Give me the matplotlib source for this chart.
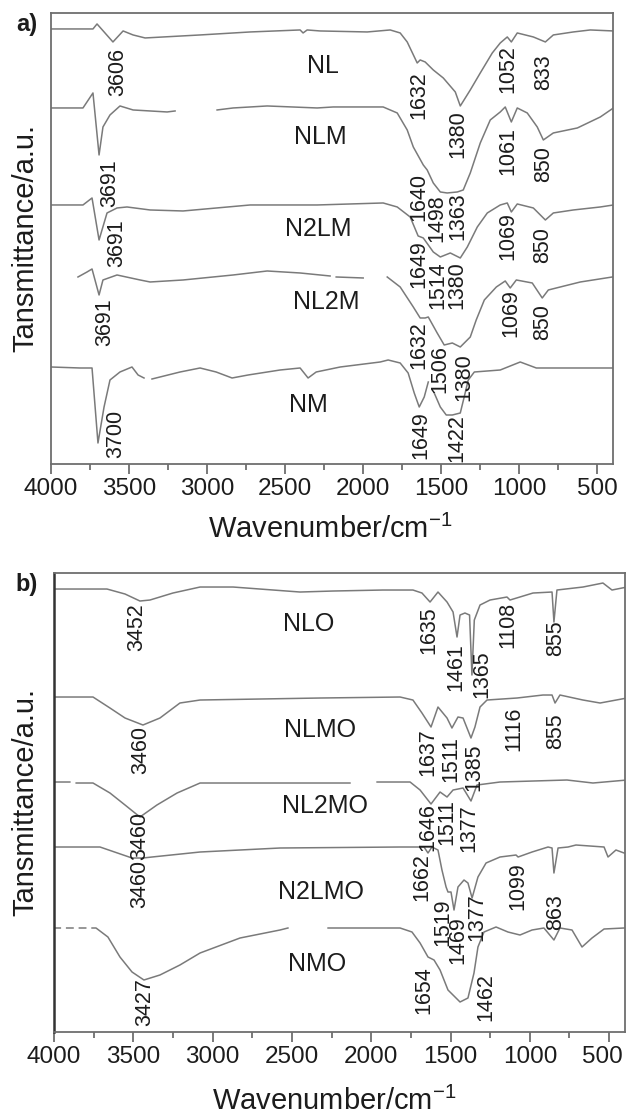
import matplotlib
matplotlib.use("Agg")
import matplotlib.pyplot as plt
import numpy as np
from matplotlib.ticker import MultipleLocator
from matplotlib.transforms import ScaledTranslation

plt.rcParams['font.family'] = ['Liberation Sans', 'DejaVu Sans']
plt.rcParams['mathtext.fontset'] = 'custom'
plt.rcParams['mathtext.rm'] = 'Liberation Sans'
plt.rcParams['mathtext.it'] = 'Liberation Sans:italic'
plt.rcParams['mathtext.bf'] = 'Liberation Sans:bold'

nan = np.nan

# ---------------- panel a) spectra (wavenumber, transmittance a.u.) ----------------
nl_wn = [4000, 3731, 3705, 3603, 3538, 3474, 3397, 3045, 2724, 2404, 2385, 2359, 2276, 1974, 1827,
         1763, 1718, 1654, 1635, 1603, 1551, 1487, 1410, 1378, 1314, 1250, 1173, 1122, 1077, 1051,
         1013, 910, 833, 782, 654, 545, 397]
nl_t = [435, 435, 440, 422, 433, 429, 426, 429, 432, 434, 431, 434, 433, 432, 434,
        431, 422, 401, 404, 402, 394, 386, 372, 358, 374, 391, 411, 421, 427, 422,
        431, 427, 422, 429, 432, 434, 433]

nlm_wn = [4000, 3795, 3731, 3692, 3667, 3622, 3558, 3474, 3256, 3205, nan, 2936, 2833, 2615, 2295,
          2192, 1872, 1782, 1718, 1679, 1615, 1590, 1551, 1506, 1462, 1397, 1359, 1314, 1250,
          1186, 1122, 1090, 1051, 1013, 949, 885, 846, 782, 628, 481, 397]
nlm_t = [356, 356, 371, 309, 337, 349, 358, 354, 352, 353, nan, 354, 356, 358, 356,
         357, 357, 351, 334, 317, 299, 294, 281, 272, 271, 272, 274, 291, 321,
         344, 352, 357, 342, 356, 351, 337, 324, 331, 336, 347, 356]

n2lm_wn = [4000, 3795, 3737, 3692, 3641, 3577, 3513, 3365, 3154, 2724, 2295, 1872, 1782, 1699,
           1648, 1615, 1551, 1506, 1442, 1378, 1333, 1269, 1205, 1122, 1077, 1051, 1013, 910,
           833, 782, 654, 481, 397]
n2lm_t = [259, 259, 266, 224, 251, 256, 257, 254, 253, 259, 259, 261, 257, 247,
          228, 226, 212, 207, 211, 206, 217, 237, 251, 259, 261, 252, 260, 256,
          244, 251, 254, 257, 259]

nl2m_wn = [3827, 3769, 3737, 3692, 3667, 3577, 3429, 3365, 3154, 2833, 2615, 2404, 2212, nan,
           2173, 2000, nan, 1846, 1763, 1679, 1635, 1603, 1583, 1526, 1481, 1429, 1378, 1314,
           1276, 1224, 1147, 1090, 1058, 1019, 917, 853, 814, 712, 609, 404]
nl2m_t = [187, 192, 195, 169, 184, 189, 184, 182, 184, 189, 193, 191, 188, nan,
          187, 186, nan, 187, 177, 157, 146, 146, 147, 131, 119, 121, 117, 127,
          144, 164, 177, 183, 176, 184, 181, 166, 174, 178, 182, 187]

nm_wn = [4000, 3814, 3737, 3699, 3660, 3622, 3558, 3481, 3442, 3404, nan, 3353, 3173, 3045, 2942,
         2840, 2737, 2532, 2404, 2353, 2301, 2147, 1891, 1840, 1763, 1712, 1673, 1641, 1609,
         1583, nan, 1545, 1506, 1468, 1429, 1378, 1353, 1327, 1288, 1122, 994, 891, 686, 404]
nm_t = [97, 96, 96, 21, 57, 84, 92, 97, 89, 86, nan, 85, 92, 96, 92,
        86, 89, 94, 96, 86, 92, 97, 102, 104, 101, 91, 71, 57, 67,
        82, nan, 71, 57, 49, 49, 51, 67, 84, 92, 94, 102, 96, 96, 96]

# ---------------- panel b) spectra ----------------
nlo_wn = [3994, 3666, 3552, 3458, 3395, 3250, 3079, 2871, 2449, 2241, 1926, 1737, 1680, 1629,
          1579, 1522, 1484, 1459, 1440, 1409, 1380, 1365, 1350, 1314, 1251, 1144, 1125, 980,
          860, 848, 829, 665, 539, 482, 387]
nlo_t = [443, 443, 438, 431, 432, 439, 445, 445, 440, 441, 442, 442, 439, 430,
         440, 430, 420, 395, 417, 419, 417, 357, 412, 427, 432, 435, 432, 439,
         440, 410, 442, 445, 449, 442, 445]

nlmo_wn = [3994, 3754, 3647, 3552, 3439, 3332, 3206, 3079, 2323, 1818, 1737, 1680, 1623, 1579,
           1522, 1491, 1453, 1421, 1371, 1346, 1314, 1270, 1081, 917, 860, 841, 810, 665, 557,
           387]
nlmo_t = [335, 335, 324, 314, 307, 314, 329, 332, 334, 335, 332, 319, 305, 325,
          314, 304, 315, 314, 294, 305, 325, 332, 334, 337, 337, 329, 337, 332, 329,
          334]

nl2mo_wn = [3994, 3900, nan, 3860, 3754, 3647, 3552, 3458, 3351, 3224, 3079, 2764, 2134, nan,
            1963, 1755, 1692, 1623, 1566, 1522, 1484, 1421, 1371, 1333, 1188, 766, 602, 387]
nl2mo_t = [250, 250, nan, 249, 249, 239, 227, 215, 227, 239, 249, 249, 249, nan,
           250, 250, 242, 228, 240, 235, 242, 244, 231, 247, 250, 252, 249, 252]

n2lmo_wn = [4000, 3710, 3508, 3439, 3382, 3079, 2575, 1818, 1667, 1642, 1617, 1579, 1554, 1528,
            1516, 1497, 1478, 1453, 1415, 1390, 1364, 1327, 1276, 1188, 1087, 1074, 986, 885,
            860, 848, 822, 759, 709, 532, 507, 457, 406]
n2lmo_t = [185, 185, 174, 174, 175, 180, 184, 185, 185, 179, 185, 182, 162, 145,
           140, 140, 122, 145, 152, 149, 134, 155, 169, 175, 177, 175, 180, 185,
           184, 159, 184, 185, 187, 185, 175, 182, 179]

nmo_wn = [4000, 3960, nan, 3920, 3880, nan, 3840, 3800, nan, 3760, 3735, 3660, 3584, 3508, 3433,
          3332, 3206, 3079, 2827, 2575, 2525, nan, 2272, 1818, 1743, 1692, 1642, 1604, 1566,
          1516, 1440, 1390, 1352, 1327, 1289, 1213, 1138, 1062, 986, 911, 848, 810, 734, 671,
          608, 532, 406]
nmo_t = [104, 104, nan, 104, 104, nan, 104, 104, nan, 104, 104, 95, 75, 60, 52,
         57, 67, 79, 94, 102, 104, nan, 104, 104, 100, 89, 75, 72, 62,
         42, 30, 34, 59, 85, 100, 105, 100, 97, 102, 104, 92, 104, 102, 85,
         94, 103, 104]

# curve names and peak labels
names_a = ["NL", "NLM", "N2LM", "NL2M", "NM"]
names_b = ["NLO", "NLMO", "NL2MO", "N2LMO", "NMO"]

# ---------------- layout (label placements) ----------------
name_pos_a = [(2256, 398), (2276, 327), (2288, 235), (2237, 162), (2353, 59)]
name_pos_b = [(2392, 408), (2323, 302), (2291, 226), (2317, 140), (2342, 68)]

peaks_a = [("3606", 3571, 392), ("3691", 3622, 281), ("3691", 3577, 221), ("3691", 3654, 142),
           ("3700", 3583, 30), ("1632", 1641, 369), ("1380", 1391, 330), ("1052", 1071, 395),
           ("833", 846, 392), ("1640", 1641, 267), ("1498", 1526, 246), ("1363", 1391, 248),
           ("1061", 1071, 313), ("850", 846, 300), ("1649", 1641, 200), ("1514", 1519, 179),
           ("1380", 1397, 179), ("1069", 1071, 228), ("850", 853, 219), ("1632", 1641, 119),
           ("1506", 1506, 95), ("1380", 1353, 87), ("1069", 1051, 151), ("850", 853, 142),
           ("1649", 1628, 29), ("1422", 1397, 26)]
peaks_b = [("3452", 3477, 405), ("3460", 3451, 282), ("3460", 3458, 196), ("3460", 3458, 148),
           ("3427", 3426, 30), ("1635", 1636, 402), ("1461", 1465, 365), ("1365", 1301, 358),
           ("1108", 1138, 407), ("855", 835, 394), ("1116", 1100, 303), ("855", 835, 301),
           ("1637", 1642, 280), ("1511", 1497, 273), ("1385", 1352, 265), ("1646", 1645, 205),
           ("1511", 1522, 210), ("1377", 1383, 204), ("1662", 1680, 155), ("1519", 1546, 110),
           ("1469", 1452, 92), ("1377", 1333, 115), ("1099", 1074, 146), ("863", 835, 120),
           ("1654", 1667, 42), ("1462", 1276, 35)]

line_col = '#7a7a7a'
spine_col = '#6e6e6e'
txt_col = '#1c1c1c'

fig = plt.figure(figsize=(6.27, 11.17), dpi=100)
ax_a = fig.add_axes([0.0813, 0.5846, 0.8963, 0.4038])
ax_b = fig.add_axes([0.0861, 0.0761, 0.9107, 0.4109])

curves_a = [(nl_wn, nl_t), (nlm_wn, nlm_t), (n2lm_wn, n2lm_t), (nl2m_wn, nl2m_t), (nm_wn, nm_t)]
curves_b = [(nlo_wn, nlo_t), (nlmo_wn, nlmo_t), (nl2mo_wn, nl2mo_t), (n2lmo_wn, n2lmo_t), (nmo_wn, nmo_t)]

for ax, curves, names, npos, peaks, top in [
        (ax_a, curves_a, names_a, name_pos_a, peaks_a, 451),
        (ax_b, curves_b, names_b, name_pos_b, peaks_b, 459)]:
    for wn, t in curves:
        ax.plot(wn, t, color=line_col, lw=1.1)
    for name, (x, y) in zip(names, npos):
        ax.text(x, y, name, fontsize=18, color=txt_col, ha='center', va='center')
    for lab, x, y in peaks:
        ax.text(x, y, lab, fontsize=15.5, color=txt_col, rotation=90, ha='center', va='center')
    ax.set_xlim(4000, 400)
    ax.set_ylim(0, top)
    ax.xaxis.set_major_locator(MultipleLocator(500))
    ax.xaxis.set_minor_locator(MultipleLocator(250))
    ax.set_yticks([])
    ax.tick_params(axis='x', which='major', direction='out', length=7, width=1.3,
                   colors=spine_col, labelcolor=txt_col, labelsize=17.5, pad=3)
    ax.tick_params(axis='x', which='minor', direction='out', length=4, width=1.3, colors=spine_col)
    for s in ax.spines.values():
        s.set_color(spine_col)
        s.set_linewidth(1.3)

ax_b.spines['left'].set_color('#333333')
ax_b.spines['left'].set_linewidth(1.8)

# nudge the last tick label of panel b so it stays inside the figure
fig.canvas.draw()
for lbl in ax_b.get_xticklabels():
    if lbl.get_text() == '500':
        lbl.set_transform(lbl.get_transform() + ScaledTranslation(-5 / 72, 0, fig.dpi_scale_trans))

# panel tags and axis titles
fig.text(27 / 627, 1 - 25 / 1117, "a)", fontsize=17, fontweight='bold', color=txt_col, ha='center', va='center')
fig.text(27 / 627, 1 - 584 / 1117, "b)", fontsize=17, fontweight='bold', color=txt_col, ha='center', va='center')
fig.text(25 / 627, 1 - 238 / 1117, "Tansmittance/a.u.", fontsize=21, color=txt_col, rotation=90,
         ha='center', va='center')
fig.text(25 / 627, 1 - 802 / 1117, "Tansmittance/a.u.", fontsize=21, color=txt_col, rotation=90,
         ha='center', va='center')
fig.text(330 / 627, 1 - 529 / 1117, r"Wavenumber/cm$^{-1}$", fontsize=21, color=txt_col,
         ha='center', va='center')
fig.text(334 / 627, 1 - 1101 / 1117, r"Wavenumber/cm$^{-1}$", fontsize=21, color=txt_col,
         ha='center', va='center')

fig.savefig("out.png", dpi=100)
